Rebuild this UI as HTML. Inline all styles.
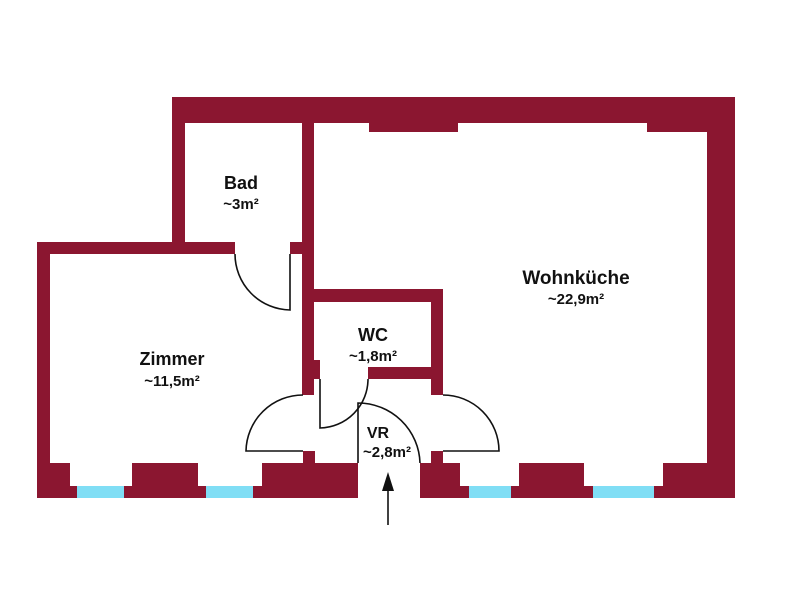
<!DOCTYPE html>
<html><head><style>
html,body{margin:0;padding:0;background:#fff;}
svg{display:block;}
text{font-family:"Liberation Sans",sans-serif;font-weight:bold;fill:#111;text-anchor:middle;}
</style></head><body>
<svg width="800" height="600" viewBox="0 0 800 600" xmlns="http://www.w3.org/2000/svg">
<g fill="#8B1630">
<rect x="172" y="97" width="563" height="26"/>
<rect x="369" y="123" width="89" height="9"/>
<rect x="647" y="123" width="60" height="9"/>
<rect x="707" y="97" width="28" height="401"/>
<rect x="172" y="97" width="13" height="157"/>
<rect x="302" y="123" width="12" height="272"/>
<rect x="314" y="360" width="6" height="19"/>
<rect x="37" y="242" width="198" height="12"/>
<rect x="290" y="242" width="24" height="12"/>
<rect x="37" y="242" width="13" height="256"/>
<rect x="314" y="289" width="129" height="13"/>
<rect x="431" y="289" width="12" height="106"/>
<rect x="368" y="367" width="75" height="12"/>
<rect x="303" y="451" width="12" height="13"/>
<rect x="431" y="451" width="12" height="13"/>
<rect x="37" y="463" width="33" height="35"/>
<rect x="37" y="486" width="40" height="12"/>
<rect x="124" y="486" width="82" height="12"/>
<rect x="132" y="463" width="66" height="35"/>
<rect x="253" y="486" width="10" height="12"/>
<rect x="262" y="463" width="96" height="35"/>
<rect x="420" y="463" width="40" height="35"/>
<rect x="420" y="486" width="49" height="12"/>
<rect x="511" y="486" width="82" height="12"/>
<rect x="519" y="463" width="65" height="35"/>
<rect x="654" y="486" width="20" height="12"/>
<rect x="663" y="463" width="72" height="35"/>
</g>
<g fill="#80DEF5">
<rect x="77" y="486" width="47" height="12"/>
<rect x="206" y="486" width="47" height="12"/>
<rect x="469" y="486" width="42" height="12"/>
<rect x="593" y="486" width="61" height="12"/>
</g>
<g fill="none" stroke="#111" stroke-width="1.6">
<path d="M290 254 V310 A56 56 0 0 1 235 254"/>
<path d="M320 379 V428 A49 49 0 0 0 368 379"/>
<path d="M303 451 H246 A57 57 0 0 1 303 395"/>
<path d="M443 451 H499 A56 56 0 0 0 443 395"/>
<path d="M358 463 V403 A62 62 0 0 1 420 463"/>
<path d="M388 525 V488"/>
</g>
<polygon points="388,472 382,491 394,491" fill="#111"/>
<text x="241" y="189" font-size="18">Bad</text>
<text x="241" y="209" font-size="15">~3m²</text>
<text x="576" y="284" font-size="19">Wohnküche</text>
<text x="576" y="304" font-size="15">~22,9m²</text>
<text x="373" y="341" font-size="18">WC</text>
<text x="373" y="361" font-size="15">~1,8m²</text>
<text x="172" y="365" font-size="18">Zimmer</text>
<text x="172" y="386" font-size="15">~11,5m²</text>
<text x="378" y="438" font-size="16">VR</text>
<text x="387" y="457" font-size="15">~2,8m²</text>
</svg>
</body></html>
